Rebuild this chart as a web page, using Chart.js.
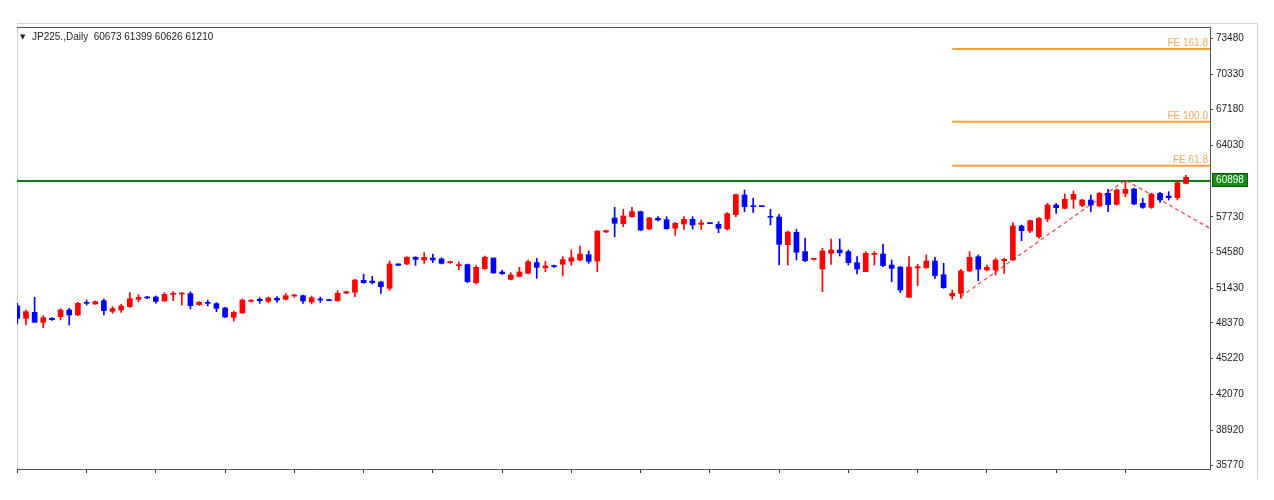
<!DOCTYPE html>
<html>
<head>
<meta charset="utf-8">
<script src="https://cdn.jsdelivr.net/npm/chart.js@4.4.1/dist/chart.umd.min.js"></script>
<style>
html,body{margin:0;padding:0;background:#ffffff;overflow:hidden}
canvas{display:block}
</style>
</head>
<body>
<canvas id="c" width="1274" height="500"></canvas>
<script>
// ---- data ----
const titleText = 'JP225.,Daily  60673 61399 60626 61210';
const opens = [49861,48773,49302,48420,48773,48920,49508,49067,50185,50038,50332,49391,49508,49802,50449,50655,50655,50302,50890,50920,
50949,49979,50185,50067,49685,48861,49243,50273,50449,50273,50537,50449,50743,50773,50214,50479,50420,50332,51008,51067,
52126,52067,51979,51420,53567,53567,54155,53920,54096,54008,53684,53420,53508,51920,53155,54096,52861,52214,52478,52743,
53684,53243,53420,53537,53802,53920,54390,53831,56390,57625,57125,57743,58184,56655,57596,57478,56714,57096,57508,57066,
57213,57066,56655,57919,59655,58684,58684,57743,57713,55272,56361,54655,53978,53125,54507,54802,54655,53684,52890,54419,
54449,53478,53302,50625,53213,53243,53831,52625,50743,50978,52949,54213,53037,53037,53860,53919,56919,56478,55978,57537,
58772,58478,59272,58742,59213,58684,59801,58831,59801,60184,58919,58566,59801,59566,59419,60673];
const highs = [50096,49508,50626,49008,48832,49626,49655,50185,50390,50302,50479,49802,50008,51037,50861,50714,50743,51037,51126,51037,
51126,50243,50390,50155,49743,49420,50479,50420,50596,50655,50685,50949,50890,50832,50743,50655,50420,51214,51155,52214,
52655,52479,52008,53831,53600,54214,54214,54567,54449,54125,53802,53743,53567,53420,54272,54096,53008,52802,53273,53920,
54067,53802,53478,54214,54802,55155,54714,56508,56566,58566,58390,58566,58243,57684,57743,57743,57243,57743,57743,57449,
57213,57302,58096,59743,60096,59361,58684,58390,57949,56478,56625,55831,54066,54949,55772,55772,54802,54213,54655,54655,
55331,53919,53331,54213,53537,54360,54155,53625,51272,53096,54655,54360,53478,54066,54066,57213,57007,57448,57654,58919,
58919,59742,60007,59272,59654,59890,60154,60184,60889,60242,59360,59801,59890,59948,60831,61399];
const lows = [48332,48185,48420,47950,48596,48626,48185,49008,49949,50008,49067,49214,49302,49743,50243,50508,50096,50273,50332,49949,
49596,49920,49861,49361,48832,48538,49214,50214,50096,50155,50185,50390,50626,50096,50038,50185,50332,50273,50949,50685,
51861,51802,50979,51243,53420,53508,53449,53625,53684,53567,53625,53037,51920,51802,53096,52743,52655,52155,52420,52684,
52302,52890,53273,52508,53449,53861,53625,52890,56331,55978,56861,57684,56508,56596,57361,56625,56096,56625,56625,56625,
57125,56331,56566,57743,58184,58125,58625,57008,53478,53478,53920,53772,53919,51125,53537,54272,53478,52684,52890,53478,
53331,52008,51037,50596,51655,53184,52302,51419,50449,50537,52890,52096,52949,52596,52743,53860,55625,56331,55831,57301,
58037,58419,58478,58625,58184,58625,58184,58772,59507,58801,58478,58478,59007,59213,59213,60626];
const closes = [48773,49361,48420,48832,48655,49508,49067,50096,50096,50243,49449,49626,49861,50508,50626,50567,50273,50890,50979,50979,
49890,50185,50096,49655,48891,49302,50390,50361,50332,50567,50390,50773,50802,50302,50596,50390,50332,50979,51126,52155,
51920,51920,51567,53567,53449,54155,53978,54155,53920,53625,53743,53478,52008,53273,54155,52773,52714,52596,52861,53773,
53273,53390,53331,53949,54125,54449,53802,56478,56508,57155,57802,58184,56566,57625,57449,56684,57155,57508,57008,57184,
57125,56714,58008,59684,58625,58625,58625,57684,55302,56390,54596,53861,54066,54713,54802,54566,53684,53125,54507,54507,
53419,53184,51272,53302,53331,53831,52537,51478,50978,52949,54155,53096,53272,53919,53978,56919,56507,57390,57595,58772,
58537,59272,59713,59213,58772,59801,58801,60095,60154,58860,58566,59742,59213,59419,60742,61210];

const yTickValues = [35770,38920,42070,45220,48370,51430,54580,57730,64030,67180,70330,73480];
const currentPrice = 60898;
const feLevels = [161.8, 100.0, 61.8];
const feValues = [72536, 66122, 62239];
const feStartBar = 108;
const trendBars = [109, 128, 137.7];
const trendValues = [50700, 60980, 56740];
const xTickStep = 8;
const xTickLast = 128;

// ---- scale ranges ----
const xMin = -0.035, xMax = 137.77;
const yMin = 35479, yMax = 74477;

const UP = '#FF0000', DOWN = '#0000FF';
const FE_COLOR = '#F7A038', FE_TEXT = '#F5A65A';
const GREEN = '#0B7D0B';
const FONT = '"Liberation Sans", Arial, sans-serif';

const idx = opens.map((_, i) => i);
const colors = idx.map(i => closes[i] >= opens[i] ? UP : DOWN);

const datasets = [];
// current price line
datasets.push({type:'line', data:[{x:xMin,y:currentPrice},{x:xMax,y:currentPrice}], borderColor:GREEN, borderWidth:2, pointRadius:0, order:5});
// FE lines
feValues.forEach(v => datasets.push({type:'line', data:[{x:feStartBar,y:v},{x:xMax,y:v}], borderColor:FE_COLOR, borderWidth:2, pointRadius:0, order:5}));
// trend dashed line
datasets.push({type:'line', data:trendBars.map((b,k)=>({x:b,y:trendValues[k]})), borderColor:'rgba(236,60,60,0.95)', borderWidth:1.2, borderDash:[4,3], pointRadius:0, order:4});
// wicks
datasets.push({type:'bar', data:idx.map(i=>({x:i,y:[lows[i],highs[i]]})), backgroundColor:colors, borderWidth:0, barThickness:1, grouped:false, order:3});
// bodies
datasets.push({type:'bar', data:idx.map(i=>({x:i,y:[opens[i],closes[i]]})), backgroundColor:colors, borderWidth:0, barThickness:5, minBarLength:1, grouped:false, order:2});

const decor = {
  id:'decor',
  beforeDraw(chart){
    const {ctx, chartArea:a} = chart;
    ctx.save();
    ctx.fillStyle = '#ffffff';
    ctx.fillRect(0,0,chart.width,chart.height);
    const winRight = chart.width - 16.5;
    ctx.lineWidth = 1;
    ctx.strokeStyle = '#CFCFCF';
    ctx.beginPath(); ctx.moveTo(a.left, a.top-3.5); ctx.lineTo(winRight, a.top-3.5); ctx.stroke();
    ctx.strokeStyle = '#B5D3EA';
    ctx.beginPath(); ctx.moveTo(winRight, a.top-3.5); ctx.lineTo(winRight, a.bottom+10); ctx.stroke();
    ctx.strokeStyle = '#D0D0D0';
    ctx.beginPath(); ctx.moveTo(a.left+0.5, a.top); ctx.lineTo(a.left+0.5, a.bottom); ctx.stroke();
    ctx.restore();
  },
  afterDraw(chart){
    const {ctx, chartArea:a, scales} = chart;
    const ys = scales.y;
    ctx.save();
    // top border
    ctx.strokeStyle = '#555555'; ctx.lineWidth = 1;
    ctx.beginPath(); ctx.moveTo(a.left, a.top+0.5); ctx.lineTo(a.right+0.5, a.top+0.5); ctx.stroke();
    // FE labels
    ctx.font = '10px ' + FONT;
    ctx.fillStyle = FE_TEXT;
    ctx.textAlign = 'right';
    ctx.textBaseline = 'alphabetic';
    feLevels.forEach((lv,k) => {
      const y = ys.getPixelForValue(feValues[k]);
      ctx.fillText('FE ' + lv.toFixed(1), a.right - 2, y - 3);
    });
    // current price box
    const py = ys.getPixelForValue(currentPrice);
    ctx.fillStyle = '#168A16';
    ctx.fillRect(a.right + 2, Math.round(py) - 8, 36, 14);
    ctx.strokeStyle = '#0A5A0A';
    ctx.strokeRect(a.right + 2.5, Math.round(py) - 7.5, 35, 13);
    ctx.fillStyle = '#ffffff';
    ctx.textAlign = 'center';
    ctx.textBaseline = 'middle';
    ctx.fillText(String(currentPrice), a.right + 20, Math.round(py) - 1);
    // title
    ctx.fillStyle = '#222222';
    ctx.textAlign = 'left';
    ctx.textBaseline = 'middle';
    ctx.font = '7px "DejaVu Sans", sans-serif';
    ctx.fillText('\u25BC', a.left + 3, a.top + 10);
    ctx.font = '10px ' + FONT;
    ctx.fillText(titleText, a.left + 15, a.top + 10);
    ctx.restore();
  }
};

new Chart(document.getElementById('c'), {
  type:'bar',
  data:{datasets},
  options:{
    responsive:false,
    animation:false,
    events:[],
    layout:{padding:{left:17, top:27, right:0, bottom:0}},
    plugins:{legend:{display:false}, tooltip:{enabled:false}},
    scales:{
      x:{
        type:'linear', min:xMin, max:xMax, offset:false,
        grid:{drawOnChartArea:false, drawTicks:true, tickLength:4, color:'#333333', offset:false},
        border:{display:true, color:'#555555', width:1},
        afterBuildTicks(s){ const t=[]; for(let v=0; v<=xTickLast; v+=xTickStep) t.push({value:v}); s.ticks=t; },
        ticks:{callback:()=>'', autoSkip:false, maxRotation:0, padding:0},
        afterFit(s){ s.height = 31; }
      },
      y:{
        type:'linear', position:'right', min:yMin, max:yMax,
        grid:{drawOnChartArea:false, drawTicks:true, tickLength:3, color:'#444444'},
        border:{display:true, color:'#555555', width:1},
        afterBuildTicks(s){ s.ticks = yTickValues.map(v=>({value:v})); },
        ticks:{callback:v=>String(v), autoSkip:false, padding:3, color:'#1a1a1a', font:{family:FONT, size:10}},
        afterFit(s){ s.width = 64; }
      }
    }
  },
  plugins:[decor]
});
</script>
</body>
</html>
